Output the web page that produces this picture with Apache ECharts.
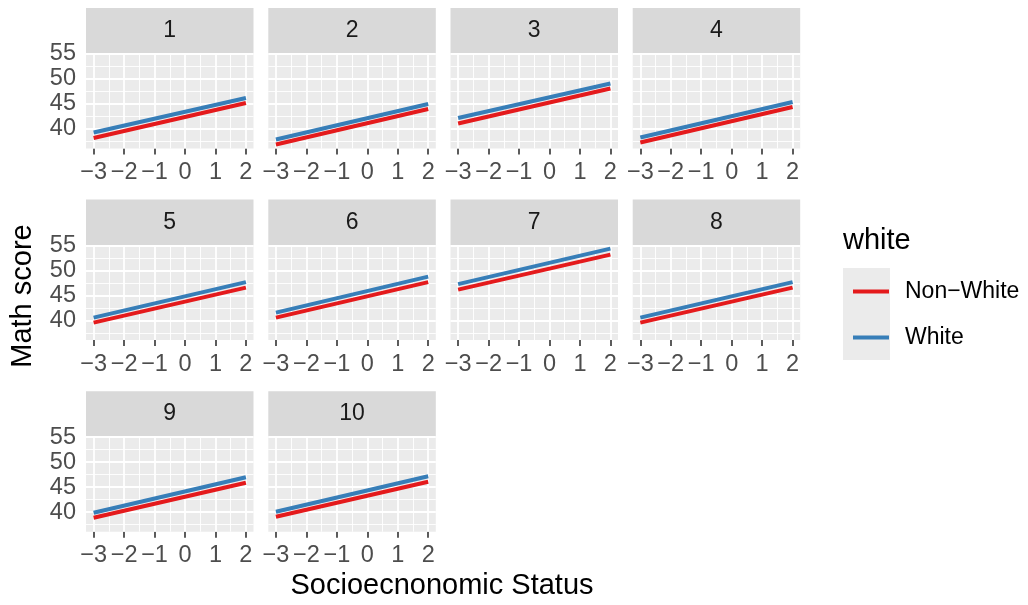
<!DOCTYPE html>
<html>
<head>
<meta charset="utf-8">
<script src="https://cdn.jsdelivr.net/npm/echarts@6/dist/echarts.min.js"></script>
<style>
  html, body { margin: 0; padding: 0; background: #fff; }
  #chart { width: 1028px; height: 605px; }
</style>
</head>
<body>
<div id="chart"></div>
<script>
// schools (facets)
const schools = ['1', '2', '3', '4', '5', '6', '7', '8', '9', '10'];
const sesRange = [-3, 2];
// predicted math score at ses = -3 and ses = 2
const nonWhiteStart = [38.2, 36.9, 41.1, 37.3, 39.6, 40.6, 46.2, 39.6, 38.9, 39.1];
const nonWhiteEnd   = [45.2, 44.0, 48.1, 44.4, 46.6, 47.7, 53.2, 46.6, 45.9, 46.1];
const whiteStart    = [39.3, 37.9, 42.2, 38.3, 40.6, 41.6, 47.3, 40.6, 39.9, 40.1];
const whiteEnd      = [46.2, 45.0, 49.1, 45.4, 47.7, 48.8, 54.4, 47.7, 47.0, 47.2];
const xTicks = [-3, -2, -1, 0, 1, 2];
const xMinor = [-2.5, -1.5, -0.5, 0.5, 1.5];
const yTicks = [40, 45, 50, 55];
const yMinor = [37.5, 42.5, 47.5, 52.5];

const nonWhiteName = 'Non\u2212White';
const whiteName = 'White';
const red = '#E41A1C';
const blue = '#377EB8';
const font = '"Liberation Sans", Arial, sans-serif';

// panel layout (px)
const colLeft = [86, 268.3, 450.5, 632.7];
const rowTop = [53.5, 245.1, 436.7];
const panelW = 167.5;
const panelH = 95;
const stripH = 45.5;

const grids = [], xAxes = [], yAxes = [], series = [], graphics = [];

schools.forEach((s, i) => {
  const col = i % 4;
  const row = Math.floor(i / 4);
  const left = colLeft[col];
  const top = rowTop[row];

  grids.push({
    left: left, top: top, width: panelW, height: panelH,
    show: true, backgroundColor: '#ebebeb', borderWidth: 0
  });

  xAxes.push({
    gridIndex: i, type: 'value', min: -3.25, max: 2.25,
    axisLine: { show: false },
    splitLine: { show: false },
    axisTick: { show: true, customValues: xTicks, length: 6, lineStyle: { color: '#333333', width: 1.6 } },
    axisLabel: {
      customValues: xTicks, margin: 12, fontSize: 23.5, color: '#4d4d4d', fontFamily: font,
      formatter: v => String(v).replace('-', '\u2212')
    }
  });

  yAxes.push({
    gridIndex: i, type: 'value', min: 36.1, max: 55.1,
    axisLine: { show: false },
    splitLine: { show: false },
    axisTick: { show: col === 0, customValues: yTicks, length: 6, lineStyle: { color: '#333333', width: 1.6 } },
    axisLabel: { show: col === 0, customValues: yTicks, margin: 10, fontSize: 23.5, color: '#4d4d4d', fontFamily: font }
  });

  // panel grid lines
  const gridLines = [];
  xMinor.forEach(v => gridLines.push({ xAxis: v, lineStyle: { width: 0.9 } }));
  yMinor.forEach(v => gridLines.push({ yAxis: v, lineStyle: { width: 0.9 } }));
  xTicks.forEach(v => gridLines.push({ xAxis: v, lineStyle: { width: 1.8 } }));
  yTicks.forEach(v => gridLines.push({ yAxis: v, lineStyle: { width: 1.8 } }));

  series.push({
    type: 'line', name: nonWhiteName, xAxisIndex: i, yAxisIndex: i, z: 3,
    data: [[sesRange[0], nonWhiteStart[i]], [sesRange[1], nonWhiteEnd[i]]],
    showSymbol: false, color: red,
    lineStyle: { width: 4, color: red },
    markLine: {
      silent: true, symbol: 'none', z: 1, animation: false,
      label: { show: false },
      lineStyle: { color: '#ffffff', type: 'solid', opacity: 1 },
      emphasis: { disabled: true },
      data: gridLines
    }
  });
  series.push({
    type: 'line', name: whiteName, xAxisIndex: i, yAxisIndex: i, z: 3,
    data: [[sesRange[0], whiteStart[i]], [sesRange[1], whiteEnd[i]]],
    showSymbol: false, color: blue,
    lineStyle: { width: 4, color: blue }
  });

  // strip
  graphics.push({
    type: 'rect', silent: true,
    shape: { x: left, y: top - stripH, width: panelW, height: stripH },
    style: { fill: '#d9d9d9' }
  });
  graphics.push({
    type: 'text', silent: true, x: left + panelW / 2, y: top - stripH / 2,
    style: { text: s, fill: '#1a1a1a', fontSize: 23, fontFamily: font, align: 'center', verticalAlign: 'middle' }
  });
});

// axis titles
graphics.push({
  type: 'text', silent: true, x: 442, y: 586,
  style: { text: 'Socioecnonomic Status', fill: '#000', fontSize: 29, fontFamily: font, align: 'center', verticalAlign: 'middle' }
});
graphics.push({
  type: 'text', silent: true, x: 23, y: 296, rotation: Math.PI / 2,
  style: { text: 'Math score', fill: '#000', fontSize: 29, fontFamily: font, align: 'center', verticalAlign: 'middle' }
});

// legend title and key background
graphics.push({
  type: 'text', silent: true, x: 843, y: 240.5,
  style: { text: 'white', fill: '#000', fontSize: 29, fontFamily: font, align: 'left', verticalAlign: 'middle' }
});
graphics.push({
  type: 'rect', silent: true, z: -1,
  shape: { x: 843, y: 268, width: 47, height: 92 },
  style: { fill: '#ebebeb' }
});

const chart = echarts.init(document.getElementById('chart'), null, { renderer: 'canvas' });
chart.setOption({
  animation: false,
  backgroundColor: '#ffffff',
  grid: grids,
  xAxis: xAxes,
  yAxis: yAxes,
  series: series,
  graphic: { elements: graphics },
  legend: {
    orient: 'vertical', left: 848, top: 275,
    icon: 'rect', itemWidth: 36, itemHeight: 4, itemGap: 23,
    selectedMode: false,
    data: [nonWhiteName, whiteName],
    textStyle: { fontSize: 23, fontFamily: font, color: '#000', padding: [0, 0, 0, 11] }
  }
});
</script>
</body>
</html>
